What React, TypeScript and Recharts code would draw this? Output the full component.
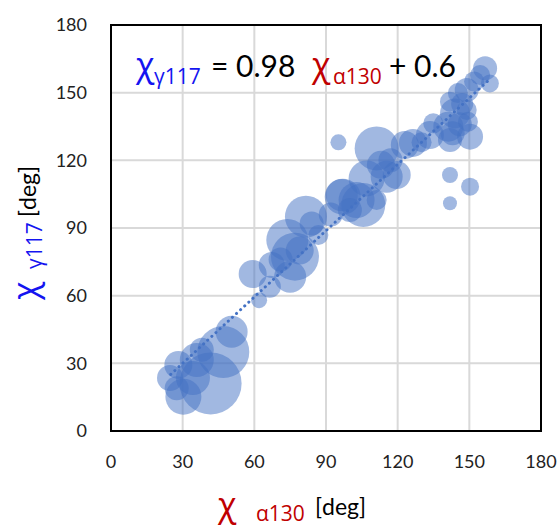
import { ScatterChart, Scatter, XAxis, YAxis, ZAxis, CartesianGrid, ReferenceArea, Customized } from "recharts";

// chi angles in degrees, bubble size (r^2 in px)
const ALPHA130 = [
    41.7, 47, 50.5, 35.9, 28.2, 24.7, 30.3, 27.5, 34.3, 38,
    59.3, 62, 81.6, 73.8, 77, 75, 67.3, 66.5, 86.8, 79, 71, 84,
    97, 102.8, 95.2, 111.2, 123, 126.4, 115.4, 119.6, 107, 96.6, 105.6, 111.2, 133.5, 113, 117, 92, 100, 130,
    156.6, 158.6, 154.5, 148.9, 141.9, 144, 148.9, 141.2, 150.3, 141.9, 134.9, 141.9, 150.3, 141.9, 149.4, 145.2, 146, 143, 152, 147,
];
const GAMMA117 = [
    21.1, 35, 44, 31.5, 29.3, 23.5, 15.2, 19, 23.5, 36,
    69.6, 58, 95, 84.7, 77.3, 68.4, 73.6, 64, 86.9, 80, 76, 92,
    103.9, 102.4, 128, 125.3, 126.8, 127.7, 112.7, 113.5, 112, 104.6, 100.2, 102.4, 131.2, 118, 120, 96, 98, 128,
    160.8, 154.1, 157.8, 151.2, 146, 140.8, 142.3, 134.9, 130.5, 129, 136.4, 113.5, 108.3, 101, 137.1, 149.8, 136, 132, 155, 145,
];
const SIZE = [
    961, 676, 256, 289, 196, 169, 324, 144, 289, 144,
    196, 64, 441, 441, 576, 256, 169, 121, 100, 196, 144, 144,
    324, 324, 64, 484, 196, 196, 256, 196, 324, 256, 484, 100, 196, 196, 144, 144, 144, 100,
    144, 81, 100, 144, 100, 225, 100, 225, 169, 144, 100, 64, 81, 49, 100, 100, 144, 144, 100, 121,
];
const TICKS = [0, 30, 60, 90, 120, 150, 180];

// trend: chi_g117 = 0.98 chi_a130 + 0.6
const SLOPE = 0.98;
const INTERCEPT = 0.6;
const TREND_X = [25, 158];

const data = ALPHA130.map((x, i) => ({ x, y: GAMMA117[i], z: SIZE[i] }));
const trend = TREND_X.map((x) => ({ x, y: SLOPE * x + INTERCEPT }));

const FONT = "Lato, 'Open Sans', sans-serif";
const GREEK = "'Open Sans', 'DejaVu Sans', sans-serif";
const BLUE = "#1414f0";
const RED = "#c00000";

function Titles() {
    return (
        <g fontFamily={FONT}>
            <text y={77} fill="#000">
                <tspan x={136} fontSize={34} fill={BLUE} fontFamily={GREEK}>χ</tspan>
                <tspan x={154} y={84} fontSize={21} fill={BLUE} fontFamily={GREEK}>γ117</tspan>
                <tspan x={211} y={77} fontSize={30}>= 0.98</tspan>
                <tspan x={312} y={77} fontSize={34} fill={RED} fontFamily={GREEK}>χ</tspan>
                <tspan x={333} y={84} fontSize={21} fill={RED} fontFamily={GREEK}>α130</tspan>
                <tspan x={389} y={77} fontSize={30}>+ 0.6</tspan>
            </text>
            <text y={517} fill="#000">
                <tspan x={218} fontSize={34} fill={RED} fontFamily={GREEK}>χ</tspan>
                <tspan x={256} y={521} fontSize={21} fill={RED} fontFamily={GREEK}>α130</tspan>
                <tspan x={315} y={515} fontSize={23}>[deg]</tspan>
            </text>
            <text transform="translate(37, 300) rotate(-90)" fill="#000">
                <tspan x={0} y={0} fontSize={34} fill={BLUE} fontFamily={GREEK}>χ</tspan>
                <tspan x={31} y={5} fontSize={21} fill={BLUE} fontFamily={GREEK}>γ117</tspan>
                <tspan x={83} y={-1} fontSize={23}>[deg]</tspan>
            </text>
        </g>
    );
}

export default function App() {
    return (
        <div style={{ position: "absolute", left: 0, top: 0, background: "#fff" }}>
            <ScatterChart width={560} height={528} margin={{ top: 25, right: 19, bottom: 0, left: 0 }}>
                <CartesianGrid stroke="#d9d9d9" strokeWidth={2} />
                <XAxis dataKey="x" type="number" domain={[0, 180]} ticks={TICKS} height={97}
                    axisLine={false} tickLine={false} tickSize={6} tickMargin={18}
                    tick={{ fontSize: 18, fill: "#222", fontFamily: FONT }} />
                <YAxis dataKey="y" type="number" domain={[0, 180]} ticks={TICKS} width={111}
                    axisLine={false} tickLine={false} tickSize={6} tickMargin={18}
                    tick={{ fontSize: 18, fill: "#222", fontFamily: FONT }} />
                <ZAxis dataKey="z" type="number" domain={[0, 1000]} range={[0, 1000 * Math.PI]} />
                <Scatter data={data} fill="#4472c4" fillOpacity={0.5} isAnimationActive={false} />
                <Scatter data={trend} line={{ stroke: "#4472c4", strokeWidth: 3, strokeDasharray: "0.1 5.5", strokeLinecap: "round" }}
                    shape={() => null} isAnimationActive={false} />
                <ReferenceArea x1={0} x2={180} y1={0} y2={180} fill="none" stroke="#000" strokeWidth={2} />
                <Customized component={Titles} />
            </ScatterChart>
        </div>
    );
}
